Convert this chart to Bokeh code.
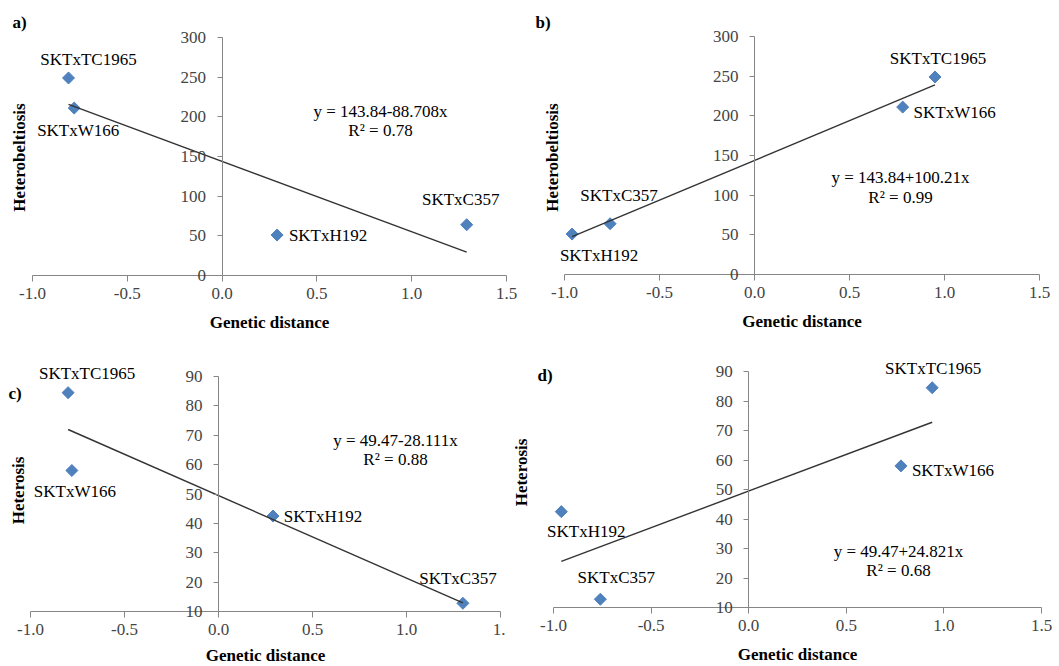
import math
from bokeh.plotting import figure
from bokeh.layouts import column, row
from bokeh.models import ColumnDataSource, LabelSet, Label, Range1d, FixedTicker, NumeralTickFormatter
from bokeh.core.properties import value
from bokeh.embed import file_html
from bokeh.resources import INLINE

# ---------------- data ----------------
crosses = ["SKTxTC1965", "SKTxW166", "SKTxH192", "SKTxC357"]

# a) Heterobeltiosis vs genetic distance
gd_a = [-0.81, -0.78, 0.29, 1.29]
hb_a = [249, 211, 51, 64]
# b) Heterobeltiosis vs genetic distance
gd_b = [0.95, 0.78, -0.96, -0.76]
hb_b = [249, 211, 51, 64]
# c) Heterosis vs genetic distance
gd_c = [-0.80, -0.78, 0.29, 1.30]
ht_c = [84.5, 58.0, 42.5, 12.8]
# d) Heterosis vs genetic distance
gd_d = [0.94, 0.78, -0.96, -0.76]
ht_d = [84.5, 58.0, 42.5, 12.8]

# regression (intercept, slope) and texts
fit_a = (143.84, -88.708)
fit_b = (143.84, 100.21)
fit_c = (49.47, -28.111)
fit_d = (49.47, 24.821)
eq_a = ["y = 143.84-88.708x", "R² = 0.78"]
eq_b = ["y = 143.84+100.21x", "R² = 0.99"]
eq_c = ["y = 49.47-28.111x", "R² = 0.88"]
eq_d = ["y = 49.47+24.821x", "R² = 0.68"]

x_ticks = [-1.0, -0.5, 0.0, 0.5, 1.0, 1.5]
y_ticks_hb = [0, 50, 100, 150, 200, 250, 300]
y_ticks_ht = [10, 20, 30, 40, 50, 60, 70, 80, 90]

# ---------------- style ----------------
FONT = "Liberation Serif"
FS = "17px"
AXIS_GRAY = "#868686"
MARK = "#4F81BD"


def make_panel(letter, ylabel, gd, yv, fit, eq, yticks, yr, size, borders,
               label_off, anchors, x_overrides=None):
    w, h = size
    L, R, T, B = borders          # pixel box of the axes inside the panel
    x0, x1 = -1.0, 1.5
    y0, y1 = yr
    dppx = (x1 - x0) / (w - L - R)
    dppy = (y1 - y0) / (h - T - B)
    xr = (x0 - L * dppx, x1 + R * dppx)
    yrr = (y0 - B * dppy, y1 + T * dppy)
    p = figure(width=w, height=h, output_backend="svg", toolbar_location=None,
               title=None,
               x_range=Range1d(*xr), y_range=Range1d(*yrr),
               min_border_left=0, min_border_right=0, min_border_top=0, min_border_bottom=0,
               background_fill_color="white", border_fill_color="white",
               outline_line_color=None)
    p.grid.visible = False

    def to_data(px, py):
        return (xr[0] + px * dppx, yrr[1] - py * dppy)

    # x axis along y = y0, spanning -1 .. 1.5
    xa = p.xaxis[0]
    xa.fixed_location = y0
    xa.bounds = (x0, x1)
    xa.ticker = FixedTicker(ticks=x_ticks)
    xa.formatter = NumeralTickFormatter(format="0.0")
    if x_overrides:
        xa.major_label_overrides = x_overrides
    xa.major_label_text_font = FONT
    xa.major_label_text_font_size = FS
    xa.major_label_standoff = 6
    xa.major_tick_out = 6
    xa.major_tick_in = 0
    xa.minor_tick_line_color = None
    xa.axis_line_color = AXIS_GRAY
    xa.major_tick_line_color = AXIS_GRAY

    # y axis crossing at x = 0
    ya = p.yaxis[0]
    ya.fixed_location = 0
    ya.bounds = (y0, y1)
    ya.ticker = FixedTicker(ticks=yticks)
    ya.major_label_text_font = FONT
    ya.major_label_text_font_size = FS
    ya.major_label_standoff = 11
    ya.major_tick_out = 5
    ya.major_tick_in = 0
    ya.minor_tick_line_color = None
    ya.axis_line_color = AXIS_GRAY
    ya.major_tick_line_color = AXIS_GRAY

    # points
    p.scatter(gd, yv, marker="square", size=8.5, angle=math.pi / 4,
              fill_color=MARK, line_color=MARK)
    # trend line
    xs = [min(gd), max(gd)]
    ys = [fit[0] + fit[1] * x for x in xs]
    p.line(xs, ys, line_color="#333333", line_width=1.4)

    # point labels
    src = ColumnDataSource(dict(x=gd, y=yv, name=crosses,
                                dx=[o[0] for o in label_off], dy=[o[1] for o in label_off]))
    p.add_layout(LabelSet(x="x", y="y", text="name", x_offset="dx", y_offset="dy",
                          source=src, text_align="center", text_baseline="middle",
                          text_font=value(FONT), text_font_size=value(FS),
                          text_color="black"))

    def lab(txt, px, py, bold=False, angle=0.0, align="center"):
        dx, dy = to_data(px, py)
        p.add_layout(Label(x=dx, y=dy, text=txt, angle=angle,
                           text_align=align, text_baseline="middle",
                           text_font=FONT, text_font_size=FS,
                           text_font_style="bold" if bold else "normal",
                           text_color="black"))

    for txt, (px, py) in zip(eq, anchors["eq"]):
        lab(txt, px, py)
    lab(letter, *anchors["letter"], bold=True, align="left")
    lab(ylabel, *anchors["ylab"], bold=True, angle=math.pi / 2)
    lab("Genetic distance", (L + (w - R)) / 2, min(h - B + 47, h - 11), bold=True)
    return p


pa = make_panel("a)", "Heterobeltiosis", gd_a, hb_a, fit_a, eq_a, y_ticks_hb, (0, 300),
                (530, 333), (32, 24, 37, 58),
                [(20, 18), (4, -22), (51, 0), (-6, 25)],
                {"eq": [(380, 111), (380, 130)], "letter": (12, 22), "ylab": (19, 157)})
pb = make_panel("b)", "Heterobeltiosis", gd_b, hb_b, fit_b, eq_b, y_ticks_hb, (0, 300),
                (529, 333), (34, 20, 36, 59),
                [(3, 18), (52, -5), (27, -21), (9, 28)],
                {"eq": [(370, 177), (370, 197)], "letter": (5, 22), "ylab": (22, 157)})
pc = make_panel("c)", "Heterosis", gd_c, ht_c, fit_c, eq_c, y_ticks_ht, (10, 90),
                (505, 333), (30, 5, 43, 55),
                [(19, 19), (3, -21), (50, 0), (-5, 25)],
                {"eq": [(395, 107), (395, 126)], "letter": (8, 60), "ylab": (18, 157)},
                x_overrides={1.5: "1."})
pd_ = make_panel("d)", "Heterosis", gd_d, ht_d, fit_d, eq_d, y_ticks_ht, (10, 90),
                 (554, 333), (48, 18, 38, 59),
                 [(1, 19), (52, -5), (25, -20), (16, 22)],
                 {"eq": [(393, 218), (393, 237)], "letter": (32, 42), "ylab": (16, 139)})

layout = column(row(pa, pb), row(pc, pd_))
open("out.html", "w").write(file_html(layout, INLINE))
